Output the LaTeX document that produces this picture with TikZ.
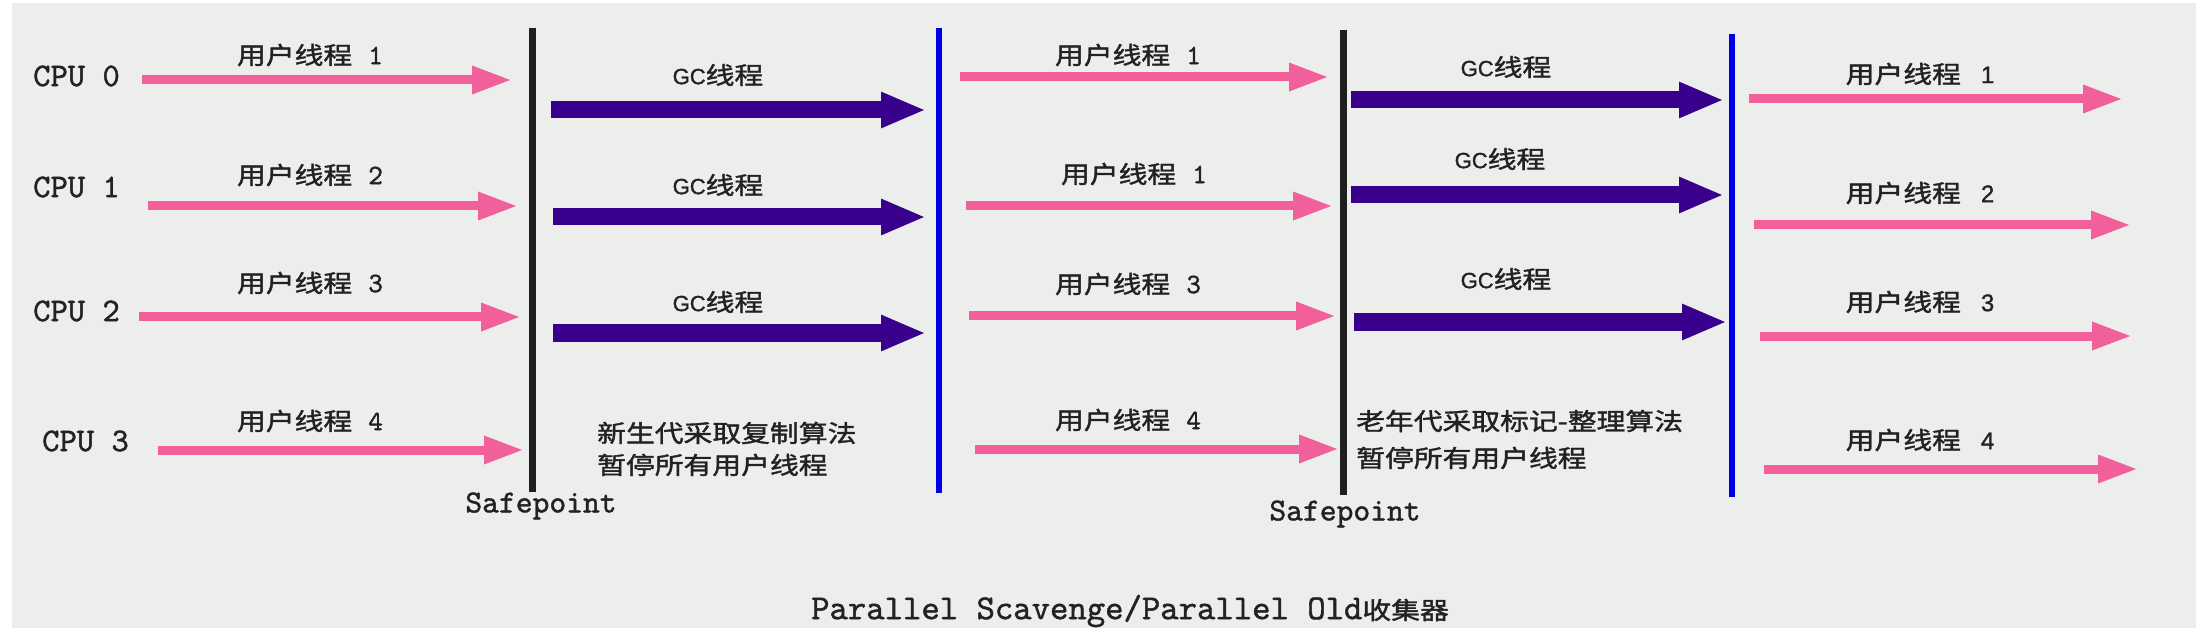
\documentclass[tikz,border=0pt]{standalone}
\usepackage{fontspec}
\setsansfont[FakeBold=1.2]{Liberation Sans}
\newfontfamily\cour[FakeBold=1.2]{lmmono10-regular.otf}
\newfontfamily\cjk[FakeStretch=1.2,FakeBold=1.6]{Noto Sans CJK SC}
\usetikzlibrary{arrows.meta}
\definecolor{bgc}{HTML}{ECEEEC}
\definecolor{pinkc}{HTML}{F2609C}
\definecolor{gcc}{HTML}{38008C}
\definecolor{txt}{HTML}{222222}
\definecolor{bluec}{HTML}{0000E8}
\tikzset{
  pinkarrow/.style={draw=pinkc, line width=9pt, -{Triangle[length=40pt,width=26pt]}},
  gcarrow/.style={draw=gcc, line width=17pt, -{Triangle[length=45pt,width=33pt]}},
  safeline/.style={draw=black!88, line width=7pt},
  blueline/.style={draw=bluec, line width=6pt},
  cpulab/.style={font=\cour\fontsize{33}{36}\selectfont, text=txt, inner sep=0pt, anchor=west},
  ulab/.style={font=\fontsize{24}{28}\selectfont, text=txt, inner sep=0pt},
  gclab/.style={font=\fontsize{24}{28}\selectfont, text=txt, inner sep=0pt},
  desc/.style={font=\cjk\fontsize{24}{28}\selectfont, text=txt, inner sep=0pt, anchor=west},
  sptext/.style={font=\cour\fontsize{32}{36}\selectfont, text=txt, inner sep=0pt},
}
\newcommand{\ulm}[1]{{\cjk 用户线程}\hspace{16pt}{\cour\fontsize{28}{30}\selectfont #1}}
\newcommand{\uls}[1]{{\cjk 用户线程}\hspace{20pt}{\sffamily #1}}
\newcommand{\gct}{{\sffamily\fontsize{22}{26}\selectfont GC}{\cjk 线程}}
\begin{document}
\begin{tikzpicture}[x=1pt,y=-1pt]
\useasboundingbox (0,0) rectangle (2206,628);
\fill[white] (0,0) rectangle (2206,628);
\fill[bgc] (12,3) rectangle (2196,628);

% CPU labels
\node[cpulab] (cpu0) at (33,76) {CPU 0};
\node[cpulab] (cpu1) at (33,187) {CPU 1};
\node[cpulab] (cpu2) at (33,311) {CPU 2};
\node[cpulab] (cpu3) at (42,441) {CPU 3};

% vertical lines
\coordinate (k1t) at (532,28); \coordinate (k1b) at (532,492);
\coordinate (b1t) at (939,28); \coordinate (b1b) at (939,493);
\coordinate (k2t) at (1343,30); \coordinate (k2b) at (1343,495);
\coordinate (b2t) at (1732,34); \coordinate (b2b) at (1732,497);
\draw[safeline] (k1t) -- (k1b);
\draw[blueline] (b1t) -- (b1b);
\draw[safeline] (k2t) -- (k2b);
\draw[blueline] (b2t) -- (b2b);
\node[sptext] (sp1) at (541,506) {Safepoint};
\node[sptext] (sp2) at (1345,514) {Safepoint};

% left user threads
\coordinate (l0s) at (142,80);  \coordinate (l0e) at (512,80);
\coordinate (l1s) at (148,206); \coordinate (l1e) at (518,206);
\coordinate (l2s) at (139,317); \coordinate (l2e) at (521,317);
\coordinate (l3s) at (158,450); \coordinate (l3e) at (524,450);
\draw[pinkarrow] (l0s) -- (l0e);
\draw[pinkarrow] (l1s) -- (l1e);
\draw[pinkarrow] (l2s) -- (l2e);
\draw[pinkarrow] (l3s) -- (l3e);
\node[ulab] (lu0) at (310,55) {\ulm{1}};
\node[ulab] (lu1) at (310,175) {\ulm{2}};
\node[ulab] (lu2) at (310,283) {\ulm{3}};
\node[ulab] (lu3) at (310,421) {\ulm{4}};

% left GC threads
\coordinate (g0s) at (551,110); \coordinate (g0e) at (926,110);
\coordinate (g1s) at (553,217); \coordinate (g1e) at (926,217);
\coordinate (g2s) at (553,333); \coordinate (g2e) at (926,333);
\draw[gcarrow] (g0s) -- (g0e);
\draw[gcarrow] (g1s) -- (g1e);
\draw[gcarrow] (g2s) -- (g2e);
\node[gclab] (lg0) at (718,75) {\gct};
\node[gclab] (lg1) at (718,185) {\gct};
\node[gclab] (lg2) at (718,302) {\gct};
\node[desc] (d1a) at (597,433) {新生代采取复制算法};
\node[desc] (d1b) at (597,465) {暂停所有用户线程};

% middle user threads
\coordinate (m0s) at (960,77);  \coordinate (m0e) at (1329,77);
\coordinate (m1s) at (966,206); \coordinate (m1e) at (1333,206);
\coordinate (m2s) at (969,316); \coordinate (m2e) at (1336,316);
\coordinate (m3s) at (975,449); \coordinate (m3e) at (1339,449);
\draw[pinkarrow] (m0s) -- (m0e);
\draw[pinkarrow] (m1s) -- (m1e);
\draw[pinkarrow] (m2s) -- (m2e);
\draw[pinkarrow] (m3s) -- (m3e);
\node[ulab] (mu0) at (1128,55) {\ulm{1}};
\node[ulab] (mu1) at (1134,174) {\ulm{1}};
\node[ulab] (mu2) at (1128,284) {\ulm{3}};
\node[ulab] (mu3) at (1128,420) {\ulm{4}};

% middle GC threads
\coordinate (h0s) at (1351,100); \coordinate (h0e) at (1724,100);
\coordinate (h1s) at (1351,195); \coordinate (h1e) at (1724,195);
\coordinate (h2s) at (1354,322); \coordinate (h2e) at (1727,322);
\draw[gcarrow] (h0s) -- (h0e);
\draw[gcarrow] (h1s) -- (h1e);
\draw[gcarrow] (h2s) -- (h2e);
\node[gclab] (mg0) at (1506,67) {\gct};
\node[gclab] (mg1) at (1500,159) {\gct};
\node[gclab] (mg2) at (1506,279) {\gct};
\node[desc] (d2a) at (1356,421) {老年代采取标记-整理算法};
\node[desc] (d2b) at (1356,458) {暂停所有用户线程};

% right user threads
\coordinate (r0s) at (1749,99);  \coordinate (r0e) at (2123,99);
\coordinate (r1s) at (1754,225); \coordinate (r1e) at (2131,225);
\coordinate (r2s) at (1760,336); \coordinate (r2e) at (2132,336);
\coordinate (r3s) at (1764,469); \coordinate (r3e) at (2138,469);
\draw[pinkarrow] (r0s) -- (r0e);
\draw[pinkarrow] (r1s) -- (r1e);
\draw[pinkarrow] (r2s) -- (r2e);
\draw[pinkarrow] (r3s) -- (r3e);
\node[ulab] (ru0) at (1920,74) {\uls{1}};
\node[ulab] (ru1) at (1920,193) {\uls{2}};
\node[ulab] (ru2) at (1920,302) {\uls{3}};
\node[ulab] (ru3) at (1920,440) {\uls{4}};

% title
\node[inner sep=0pt, text=txt] (title) at (1130,611)
  {{\cour\fontsize{35}{38}\selectfont Parallel Scavenge/Parallel Old}{\cjk\fontsize{24}{28}\selectfont 收集器}};
\end{tikzpicture}
\end{document}
